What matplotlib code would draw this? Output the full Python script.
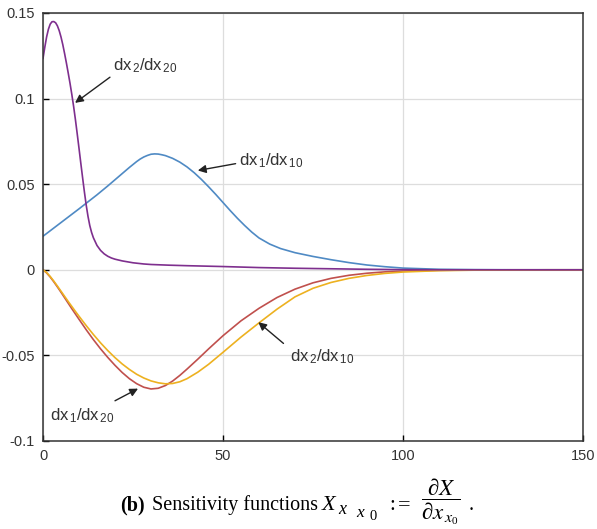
import matplotlib
matplotlib.use("Agg")
import matplotlib.pyplot as plt

# ---- data ----
x_dx2_dx20 = [0, 0.5, 1, 1.5, 2, 2.5, 3, 3.5, 4, 4.5, 5, 5.5, 6, 6.5, 7, 7.5, 8, 8.5,
              9, 9.5, 10, 10.5, 11, 11.5, 12, 12.5, 13, 13.5, 14, 15, 16, 17, 18, 19,
              20, 22, 25, 28, 30, 35, 40, 50, 60, 70, 80, 90, 100, 110, 150]
dx2_dx20 = [0.1235, 0.1300, 0.1360, 0.1405, 0.1435, 0.1449, 0.1450, 0.1443, 0.1425,
            0.1397, 0.1360, 0.1315, 0.1263, 0.1208, 0.1150, 0.1090, 0.1025, 0.0955,
            0.0878, 0.0795, 0.0710, 0.0623, 0.0538, 0.0455, 0.0378, 0.0312, 0.0258,
            0.0218, 0.0187, 0.0142, 0.0113, 0.0093, 0.0079, 0.0069, 0.0062, 0.0052,
            0.0041, 0.0034, 0.0031, 0.0027, 0.0024, 0.0019, 0.0013, 0.0009, 0.0006,
            0.0003, 0.0001, 0.0, 0.0]

x_dx1_dx10 = [0, 5, 10, 15, 18, 20, 22, 24, 26, 27, 28, 29, 30, 31, 32, 33, 34, 36,
              38, 40, 42, 44, 46, 48, 50, 52, 54, 56, 58, 60, 63, 66, 70, 75, 80, 85,
              90, 95, 100, 110, 120, 130, 150]
dx1_dx10 = [0.0196, 0.0276, 0.0356, 0.0438, 0.0490, 0.0526, 0.0562, 0.0598, 0.0632,
            0.0647, 0.0659, 0.0668, 0.0675, 0.0677, 0.0676, 0.0672, 0.0667, 0.0651,
            0.0629, 0.0601, 0.0567, 0.0528, 0.0485, 0.0440, 0.0393, 0.0346, 0.0301,
            0.0259, 0.0220, 0.0186, 0.0150, 0.0124, 0.0100, 0.0078, 0.0059, 0.0042,
            0.0028, 0.0018, 0.0010, 0.0003, 0.0001, 0.0, 0.0]

x_dx1_dx20 = [0, 1, 2, 3, 4, 5, 6, 7, 8, 9, 10, 12, 14, 16, 18, 20, 22, 24, 26, 28,
              30, 32, 34, 36, 38, 40, 43, 46, 50, 55, 60, 65, 70, 75, 80, 85, 90, 95,
              100, 110, 120, 130, 150]
dx1_dx20 = [0.0, -0.0018, -0.0042, -0.0070, -0.0100, -0.0131, -0.0163, -0.0195,
            -0.0227, -0.0258, -0.0289, -0.0350, -0.0408, -0.0462, -0.0512, -0.0558,
            -0.0600, -0.0636, -0.0665, -0.0686, -0.0696, -0.0692, -0.0676, -0.0650,
            -0.0617, -0.0580, -0.0522, -0.0462, -0.0385, -0.0298, -0.0225, -0.0162,
            -0.0113, -0.0076, -0.0050, -0.0032, -0.0020, -0.0012, -0.0007, -0.0003,
            -0.0001, 0.0, 0.0]

x_dx2_dx10 = [0, 1, 2, 3, 4, 5, 6, 7, 8, 9, 10, 12, 14, 16, 18, 20, 22, 24, 26, 28,
              30, 32, 34, 36, 38, 40, 43, 46, 50, 55, 60, 65, 70, 75, 80, 85, 90, 95,
              100, 110, 120, 130, 140, 150]
dx2_dx10 = [0.0, -0.0016, -0.0039, -0.0066, -0.0095, -0.0125, -0.0155, -0.0185,
            -0.0214, -0.0243, -0.0271, -0.0326, -0.0378, -0.0427, -0.0472, -0.0513,
            -0.0550, -0.0582, -0.0610, -0.0632, -0.0649, -0.0660, -0.0666, -0.0664,
            -0.0654, -0.0636, -0.0598, -0.0552, -0.0482, -0.0393, -0.0310, -0.0230,
            -0.0158, -0.0108, -0.0074, -0.0050, -0.0033, -0.0021, -0.0013, -0.0005,
            -0.0002, -0.0001, 0.0, 0.0]

xticks = [0, 50, 100, 150]
yticks = [-0.1, -0.05, 0, 0.05, 0.1, 0.15]
yticklabels = ["-0.1", "-0.05", "0", "0.05", "0.1", "0.15"]

plt.rcParams["font.family"] = ["Liberation Sans", "DejaVu Sans"]
plt.rcParams["mathtext.default"] = "regular"
plt.rcParams["mathtext.fontset"] = "stix"

W, H = 597, 529
fig = plt.figure(figsize=(W / 100, H / 100), dpi=100)
ax = fig.add_axes([43/W, 1 - 441/H, (583 - 43)/W, (441 - 13)/H])

ax.plot(x_dx1_dx10, dx1_dx10, color="#4f8ac4", lw=1.2)
ax.plot(x_dx1_dx20, dx1_dx20, color="#c0504d", lw=1.2)
ax.plot(x_dx2_dx10, dx2_dx10, color="#EDB120", lw=1.2)
ax.plot(x_dx2_dx20, dx2_dx20, color="#7E2F8E", lw=1.2)

ax.set_xlim(0, 150)
ax.set_ylim(-0.1, 0.15)
ax.set_xticks(xticks)
ax.set_xticklabels([str(t) for t in xticks])
ax.set_yticks(yticks)
ax.set_yticklabels(yticklabels)
ax.grid(True, color="#dddddd", lw=0.9)
ax.set_axisbelow(True)
ax.tick_params(direction="in", length=4, width=1, labelsize=10.5,
               labelcolor="#333333", pad=6)
for s in ax.spines.values():
    s.set_color("#333333")
    s.set_linewidth(1.1)

ann = dict(arrowstyle="-|>", color="#222222", lw=1.0, mutation_scale=12,
           shrinkA=0, shrinkB=0)
tk = dict(fontsize=12, color="#333333", va="center", ha="left")
ax.text(19.5, 0.119, r"dx$_{\,2}$/dx$_{\,20}$", **tk)
ax.annotate("", xy=(8.9, 0.0975), xytext=(18.6, 0.1125), arrowprops=ann)
ax.text(54.5, 0.064, r"dx$_{\,1}$/dx$_{\,10}$", **tk)
ax.annotate("", xy=(43, 0.058), xytext=(53.5, 0.062), arrowprops=ann)
ax.text(68.5, -0.051, r"dx$_{\,2}$/dx$_{\,10}$", **tk)
ax.annotate("", xy=(59.8, -0.0306), xytext=(66.8, -0.043), arrowprops=ann)
ax.text(2.0, -0.085, r"dx$_{\,1}$/dx$_{\,20}$", **tk)
ax.annotate("", xy=(26.4, -0.0694), xytext=(20.0, -0.0765), arrowprops=ann)

# caption, built from pieces
def px(xp, yp):
    return xp / W, 1 - yp / H

serif = ["Liberation Serif"]
yb = 510
fig.text(*px(120, yb), "(b)", fontsize=14.5, weight="bold", family=serif, va="baseline")
fig.text(*px(152, yb), "Sensitivity functions", fontsize=14.5, family=serif, va="baseline")
fig.text(*px(322, yb), "X", fontsize=16, style="italic", family=serif, va="baseline")
fig.text(*px(338, yb + 4), "x", fontsize=13, style="italic", family=serif, va="baseline")
fig.text(*px(356, yb + 7), "x", fontsize=12.5, style="italic", family=serif, va="baseline")
fig.text(*px(369, yb + 10), "0", fontsize=10.5, family=serif, va="baseline")
fig.text(*px(389, yb), ":", fontsize=15, family=serif, va="baseline")
fig.text(*px(398, yb), "=", fontsize=16, family=serif, va="baseline")
fig.text(*px(421, yb - 3),
         r"$\dfrac{\partial \mathit{X}}{\partial \mathit{x}_{\,\mathit{x}_{0}}}$",
         fontsize=16.5, family=serif, va="baseline")
fig.text(*px(469, yb), ".", fontsize=14.5, family=serif, va="baseline")

fig.savefig("out.png", dpi=100)
